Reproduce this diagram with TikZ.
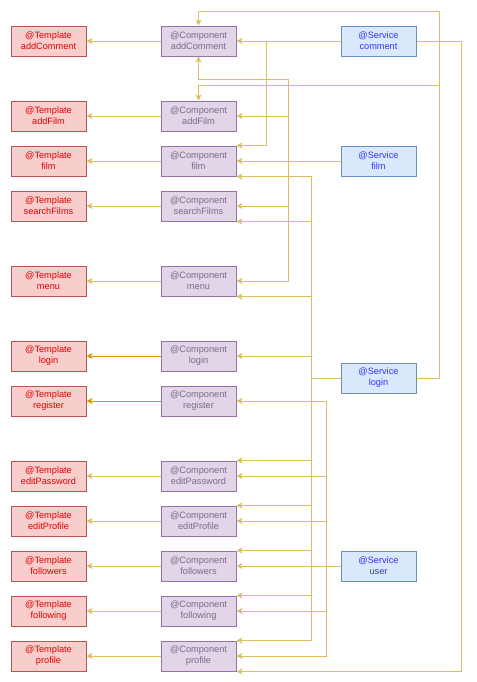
\documentclass[tikz,border=0pt]{standalone}
\usepackage{fontspec}
\setmainfont{Liberation Sans}
\usetikzlibrary{arrows.meta}

\definecolor{tplfill}{HTML}{F8CECC}
\definecolor{tplline}{HTML}{B85450}
\definecolor{tpltext}{HTML}{E00000}
\definecolor{cmpfill}{HTML}{E1D5E7}
\definecolor{cmpline}{HTML}{9673A6}
\definecolor{cmptext}{HTML}{7D6A8C}
\definecolor{srvfill}{HTML}{DAE8FC}
\definecolor{srvline}{HTML}{6C8EBF}
\definecolor{srvtext}{HTML}{3333FF}
\definecolor{linkcol}{HTML}{DCBF62}
\definecolor{linkdark}{HTML}{D79B00}

\begin{document}
\begin{tikzpicture}[x=0.75pt,y=-0.75pt,line width=0.75pt,
    box/.style={draw,font=\fontsize{6.9}{8.1}\selectfont,align=center,inner sep=0pt,
      minimum width=56.25pt,minimum height=22.5pt},
    tpl/.style={box,fill=tplfill,draw=tplline,text=tpltext},
    cmp/.style={box,fill=cmpfill,draw=cmpline,text=cmptext},
    srv/.style={box,fill=srvfill,draw=srvline,text=srvtext},
    link/.style={draw=linkcol,-{Stealth[length=4.5pt,width=4.5pt,inset=1.2pt]}}]
    \useasboundingbox (0,0) rectangle (476,682);
    % templates and components
    \foreach \n/\y/\c in {addComment/41/linkcol,addFilm/116/linkcol,film/161/linkcol,
        searchFilms/206/linkcol,menu/281/linkcol,login/356/linkdark,register/401/linkdark,
        editPassword/476/linkcol,editProfile/521/linkcol,followers/566/linkcol,
        following/611/linkcol,profile/656/linkcol}{
        \node[tpl] (t-\n) at (48.5,\y) {@Template\\\n};
        \node[cmp] (c-\n) at (198.5,\y) {@Component\\\n};
        \draw[link,draw=\c] (c-\n.west) -- (t-\n.east);
    }
    % services
    \node[srv] (s-comment) at (378.5,41) {@Service\\comment};
    \node[srv] (s-film) at (378.5,161) {@Service\\film};
    \node[srv] (s-login) at (378.5,378) {@Service\\login};
    \node[srv] (s-user) at (378.5,566) {@Service\\user};
    % bus lines
    \coordinate (busC) at (266,0);
    \coordinate (busF) at (288,0);
    \coordinate (busL) at (311,0);
    \coordinate (busU) at (326,0);
    \coordinate (busE) at (461,0);
    \coordinate (busR) at (439,11);
    \coordinate (kinkL) at (439,85);
    \coordinate (kinkF) at (288,79);
    % comment
    \draw[link] (s-comment.west) -- (c-addComment.east);
    \draw[link] (s-comment.west) -| (busC |- c-film.north east) -- (c-film.north east);
    \draw[link] (s-comment.east) -| (busE |- c-profile.south east) -- (c-profile.south east);
    % film
    \draw[link] (s-film.west) -- (c-film.east);
    \draw[link] (s-film.west) -| (kinkF) -| (c-addComment.south);
    \foreach \n in {addFilm,searchFilms,menu}
        \draw[link] (s-film.west) -| (busF |- c-\n.east) -- (c-\n.east);
    % login
    \draw[link] (s-login.east) -| (busR) -| (c-addComment.north);
    \draw[link] (s-login.east) -| (kinkL) -| (c-addFilm.north);
    \draw[link] (s-login.west) -| (busL |- c-login.east) -- (c-login.east);
    \foreach \n in {film,searchFilms,menu}
        \draw[link] (s-login.west) -| (busL |- c-\n.south east) -- (c-\n.south east);
    \foreach \n in {editPassword,editProfile,followers,following,profile}
        \draw[link] (s-login.west) -| (busL |- c-\n.north east) -- (c-\n.north east);
    % user
    \draw[link] (s-user.west) -- (c-followers.east);
    \foreach \n in {register,editPassword,editProfile,following,profile}
        \draw[link] (s-user.west) -| (busU |- c-\n.east) -- (c-\n.east);
\end{tikzpicture}
\end{document}
